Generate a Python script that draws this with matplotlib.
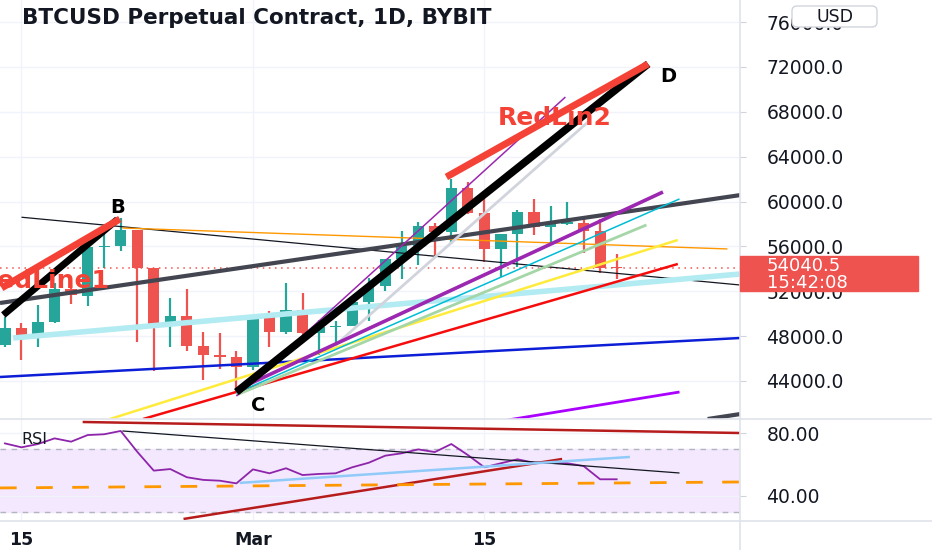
import numpy as np
import matplotlib.pyplot as plt
from matplotlib.patches import Rectangle, FancyBboxPatch
from matplotlib.lines import Line2D
from matplotlib.transforms import IdentityTransform

# daily candles, day 0 = 14 Feb 2021
opens = [47200, 48700, 48000, 49250, 52200, 51600, 55900, 56000, 57500, 54100,
         48900, 49800, 47100, 46300, 46100, 45200, 49700, 48400, 50300, 48300,
         48800, 48900, 51000, 52500, 54900, 56000, 57800, 57300, 61200, 59000,
         55800, 57100, 59100, 57700, 58000, 58100, 57400, 54100]
highs = [49700, 49200, 50800, 52700, 52700, 56300, 57600, 58500, 57500, 54100,
         51400, 52200, 48400, 48300, 46700, 49800, 50200, 52700, 51800, 49400,
         49300, 51300, 53200, 54900, 57400, 58200, 58100, 62000, 61700, 60800,
         57100, 59200, 60200, 59600, 60000, 58600, 58400, 55300]
lows = [47000, 45900, 47000, 49200, 50900, 50700, 54100, 55600, 47500, 44900,
        47000, 46700, 44100, 45100, 43000, 45000, 47000, 48200, 47500, 46300,
        47200, 48900, 49300, 52000, 53100, 54300, 55100, 56200, 58900, 54600,
        53300, 54200, 57000, 56300, 57900, 55400, 53600, 53100]
closes = [48700, 48000, 49250, 52200, 51700, 55900, 56000, 57500, 54100, 48900,
          49800, 47100, 46300, 46100, 45200, 49700, 48400, 50300, 48300, 48800,
          48900, 51000, 52500, 54900, 56000, 57800, 57300, 61200, 59000, 55800,
          57100, 59100, 57700, 58000, 58100, 57400, 54100, 54040]
rsi = [73.4, 70.9, 73.0, 76.6, 74.5, 78.7, 79.2, 81.3, 68.1, 56.1, 57.1, 51.9,
       50.2, 49.7, 48.0, 56.9, 54.4, 57.6, 53.3, 54.0, 54.4, 58.2, 61.1, 65.6,
       67.1, 69.6, 67.9, 73.0, 66.0, 58.2, 60.8, 63.3, 61.1, 61.1, 60.8, 59.0,
       50.6, 50.6]
last_price = 54040.5

price_ticks = [44000, 48000, 52000, 56000, 60000, 64000, 68000, 72000, 76000]
rsi_ticks = [40, 80]
date_ticks = [1, 15, 29]
date_labels = ["15", "Mar", "15"]

# trend lines drawn on the chart: (day0, price0, day1, price1)
drawings = {
    "thin_black": (1.0, 58600, 44.5, 52550),
    "orange": (7.1, 57640, 43.7, 55770),
    "dark_gray": (-0.3, 50950, 44.5, 60580),
    "light_cyan": (0.5, 47830, 44.5, 53540),
    "blue": (-0.3, 44350, 44.5, 47830),
    "yellow": (6.35, 40600, 40.7, 56570),
    "red": (8.35, 40600, 40.7, 54430),
    "light_gray": (20.0, 47200, 35.4, 67270),
    "light_green": (14.0, 42740, 38.8, 57910),
    "cyan": (14.0, 42920, 40.8, 60230),
    "purple_thick": (14.0, 43190, 39.8, 60850),
    "purple_thin": (14.0, 42650, 33.9, 69320),
    "violet": (30.4, 40510, 40.8, 43010),
    "dark_short": (42.5, 40600, 44.5, 41050),
    "black_ab": (-0.1, 49880, 6.8, 58400),
    "black_cd": (14.0, 43010, 38.9, 72270),
    "redline1": (-0.2, 52290, 6.95, 58440),
    "redline2": (26.7, 62190, 38.9, 72270),
}
rsi_drawings = {
    "maroon_top": (4.7, 87.0, 44.5, 80.0),
    "maroon_up": (10.8, 25.4, 33.7, 63.5),
    "black": (7.1, 81.3, 40.8, 54.6),
    "lightblue": (14.2, 48.3, 37.8, 64.8),
    "orange_dash": (-0.3, 45.1, 44.5, 48.9),
}

styles = {
    "thin_black": dict(color="#131722", lw=0.9),
    "orange": dict(color="#ff9800", lw=1.0),
    "dark_gray": dict(color="#434651", lw=3),
    "light_cyan": dict(color="#b2ebf2", lw=4),
    "blue": dict(color="#0d1fd6", lw=1.8),
    "yellow": dict(color="#ffeb3b", lw=1.8),
    "red": dict(color="#f50c0c", lw=1.8),
    "light_gray": dict(color="#d1d4dc", lw=2),
    "light_green": dict(color="#a5d6a7", lw=2),
    "cyan": dict(color="#00bcd4", lw=1.1),
    "purple_thick": dict(color="#9c27b0", lw=2.6),
    "purple_thin": dict(color="#9c27b0", lw=1.1),
    "violet": dict(color="#aa00ff", lw=2),
    "dark_short": dict(color="#434651", lw=3),
    "black_ab": dict(color="#000000", lw=5),
    "black_cd": dict(color="#000000", lw=5.5),
    "redline1": dict(color="#f44336", lw=5),
    "redline2": dict(color="#f44336", lw=5),
    "maroon_top": dict(color="#b71c1c", lw=1.8),
    "maroon_up": dict(color="#b71c1c", lw=1.8),
    "black": dict(color="#131722", lw=0.9),
    "lightblue": dict(color="#90caf9", lw=1.8),
    "orange_dash": dict(color="#ff9800", lw=2, ls=(0, (6, 7))),
}

W, H = 932, 550
fig = plt.figure(figsize=(W / 100, H / 100), dpi=100)
fig.patch.set_facecolor("white")


def fx(x):
    return x / W


def fy(y):
    return 1 - y / H


ax = fig.add_axes([0, fy(419), fx(740), 419 / H])
ax_r = fig.add_axes([0, fy(521), fx(740), 102 / H], sharex=ax)

grid_c = "#f0f3fa"
for a in (ax, ax_r):
    for s in a.spines.values():
        s.set_visible(False)
    a.set_facecolor("white")
    for d in date_ticks:
        a.axvline(d, color=grid_c, lw=1, zorder=0)

ax.set_xlim(-0.30, 44.46)
ax.set_ylim(40602, 77976)
for p in price_ticks:
    ax.axhline(p, color=grid_c, lw=1, zorder=0)

# candles
days = np.arange(len(opens))
up = np.array(closes) >= np.array(opens)
colors = np.where(up, "#26a69a", "#ef5350")
ax.vlines(days, lows, highs, colors=colors, lw=1.6, zorder=2)
bottoms = np.minimum(opens, closes)
heights = np.maximum(np.abs(np.array(closes) - np.array(opens)), 140)
ax.bar(days, heights, bottom=bottoms, width=0.68, color=colors, zorder=3)

ax.axhline(last_price, color="#ef5350", lw=1.1, ls=(0, (1, 3)), zorder=2)

for name, (d0, p0, d1, p1) in drawings.items():
    ax.plot([d0, d1], [p0, p1], solid_capstyle="butt", zorder=4, **styles[name])

ax.text(6.84, 59500, "B", fontsize=14, fontweight="bold", ha="center", va="center", zorder=6)
ax.text(15.3, 41850, "C", fontsize=14, fontweight="bold", ha="center", va="center", zorder=6)
ax.text(40.1, 71110, "D", fontsize=14, fontweight="bold", ha="center", va="center", zorder=6)
ax.text(33.27, 67450, "RedLin2", fontsize=18, fontweight="bold", color="#f44336",
        ha="center", va="center", zorder=6)
ax.text(6.35, 52900, "RedLine1", fontsize=18, fontweight="bold", color="#f44336",
        ha="right", va="center", zorder=6, clip_on=True)

ax.yaxis.tick_right()
ax.set_yticks(price_ticks)
ax.set_yticklabels([f"{p:.1f}" for p in price_ticks])
ax.tick_params(axis="y", length=4, color="#d1d4dc", labelsize=13.5, pad=15,
               labelcolor="#131722")
ax.tick_params(axis="x", length=0, labelbottom=False)

# RSI pane
ax_r.set_ylim(24.1, 88.9)
ax_r.axhspan(30, 70, color="#f3e8fd", zorder=0)
for v in rsi_ticks:
    ax_r.axhline(v, color=grid_c, lw=1, zorder=0)
for v in (30, 70):
    ax_r.axhline(v, color="#b2b5be", lw=1, ls=(0, (4, 4)), zorder=1)
ax_r.plot(days, rsi, color="#8e24aa", lw=1.3, zorder=3)
for name, (d0, v0, d1, v1) in rsi_drawings.items():
    ax_r.plot([d0, d1], [v0, v1], solid_capstyle="butt", zorder=4, **styles[name])
ax_r.text(1.0, 75.6, "RSI", fontsize=11.5, ha="left", va="center", color="#131722", zorder=6)

ax_r.yaxis.tick_right()
ax_r.set_yticks(rsi_ticks)
ax_r.set_yticklabels([f"{v:.2f}" for v in rsi_ticks])
ax_r.tick_params(axis="y", length=4, color="#d1d4dc", labelsize=13.5, pad=15,
                 labelcolor="#131722")
ax_r.set_xticks(date_ticks)
ax_r.set_xticklabels(date_labels, fontweight="bold")
ax_r.tick_params(axis="x", length=0, labelsize=12.5, pad=7, labelcolor="#131722")

# separators
sep = "#e0e3eb"
fig.add_artist(Line2D([0, 1], [fy(419), fy(419)], color=sep, lw=1.2))
fig.add_artist(Line2D([0, 1], [fy(521), fy(521)], color=sep, lw=1.2))
fig.add_artist(Line2D([fx(740), fx(740)], [0, 1], color=sep, lw=1.2))

# last price label
fig.add_artist(Rectangle((fx(740), fy(291)), fx(918 - 740), 35 / H,
                         transform=fig.transFigure, color="#ef5350", zorder=10))
fig.text(fx(767), fy(266), "54040.5", color="white", fontsize=13, va="center", zorder=11)
fig.text(fx(767), fy(283), "15:42:08", color="white", fontsize=13, va="center", zorder=11)

# currency button
fig.add_artist(FancyBboxPatch((792, H - 27), 85, 21, boxstyle="round,pad=0,rounding_size=5",
                              transform=IdentityTransform(), fc="white", ec="#d1d4dc",
                              lw=1, zorder=10))
fig.text(fx(834.5), fy(16.5), "USD", fontsize=12.5, ha="center", va="center",
         color="#131722", zorder=11)

fig.text(fx(22), fy(18), "BTCUSD Perpetual Contract, 1D, BYBIT", fontsize=15.5,
         fontweight="bold", va="center", color="#131722")

fig.savefig("out.png", dpi=100, facecolor="white")
